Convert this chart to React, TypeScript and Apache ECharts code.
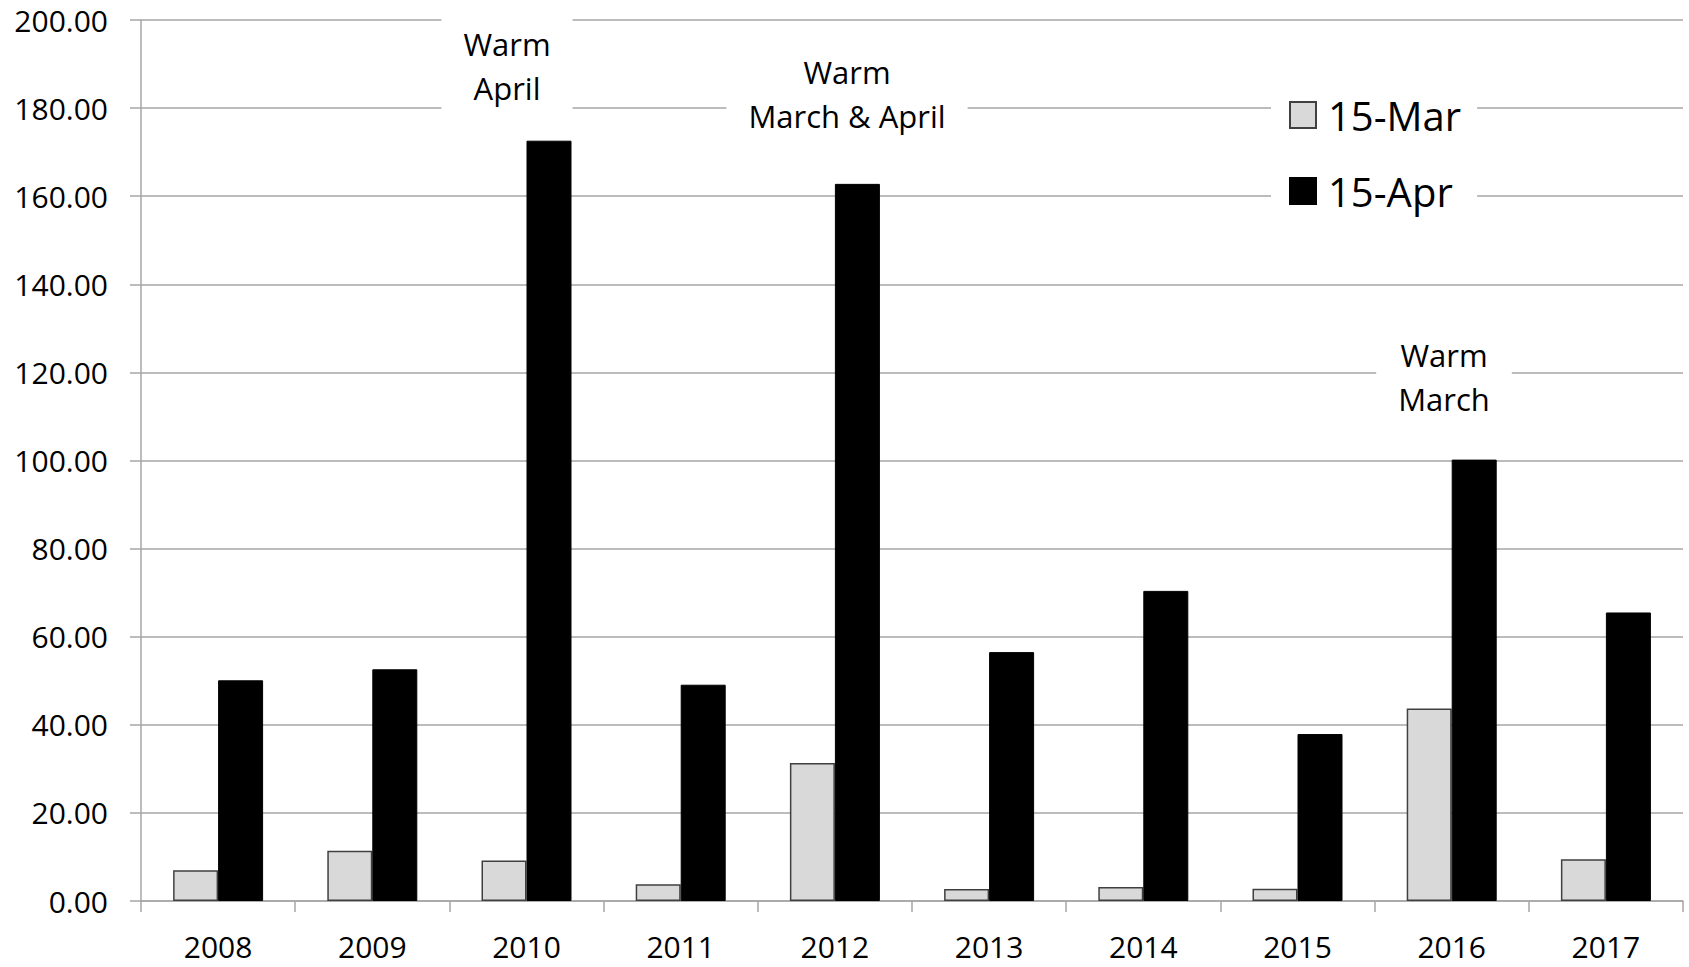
import React, { useEffect, useRef } from "react";
import * as echarts from "echarts";

// Sampling years on the category axis
const years = ["2008", "2009", "2010", "2011", "2012", "2013", "2014", "2015", "2016", "2017"];

// Values measured on 15 March and 15 April of each year
const march15 = [7.0, 11.4, 9.2, 3.8, 31.3, 2.7, 3.2, 2.8, 43.7, 9.5];
const april15 = [50.1, 52.6, 172.6, 49.1, 162.8, 56.5, 70.4, 37.9, 100.2, 65.5];

const seriesNames = ["15-Mar", "15-Apr"];

// Notes placed above notable years
const notes = [
  { text: "Warm\nApril", x: 507, y: 66 },
  { text: "Warm\nMarch & April", x: 847, y: 94 },
  { text: "Warm\nMarch", x: 1444, y: 377 },
];

const FONT = "'Open Sans', 'Noto Sans', sans-serif";
const GRID_GRAY = "#a6a6a6";

export default function App() {
  const ref = useRef<HTMLDivElement>(null);

  useEffect(() => {
    if (!ref.current) return;
    const chart = echarts.init(ref.current, null, { renderer: "svg" });
    chart.setOption({
      animation: false,
      backgroundColor: "#ffffff",
      textStyle: { fontFamily: FONT },
      grid: { left: 141, right: 6, top: 20, bottom: 66, containLabel: false },
      legend: {
        data: seriesNames,
        orient: "vertical",
        left: 1271,
        top: 75,
        itemWidth: 26,
        itemHeight: 26,
        itemGap: 36,
        icon: "rect",
        backgroundColor: "#ffffff",
        padding: [20, 16, 20, 18],
        textStyle: {
          fontSize: 40,
          lineHeight: 40,
          color: "#000",
          fontFamily: FONT,
          padding: [0, 0, 0, 7],
        },
      },
      xAxis: {
        type: "category",
        data: years,
        boundaryGap: true,
        axisLine: { show: true, lineStyle: { color: GRID_GRAY, width: 1.5 } },
        axisTick: { show: true, length: 11, alignWithLabel: false, lineStyle: { color: GRID_GRAY, width: 1.5 } },
        axisLabel: { fontSize: 30, color: "#000", fontFamily: FONT, margin: 30 },
        splitLine: { show: false },
      },
      yAxis: {
        type: "value",
        min: 0,
        max: 200,
        interval: 20,
        axisLine: { show: true, lineStyle: { color: GRID_GRAY, width: 1.5 } },
        axisTick: { show: true, length: 11, lineStyle: { color: GRID_GRAY, width: 1.5 } },
        axisLabel: {
          fontSize: 30,
          color: "#000",
          fontFamily: FONT,
          margin: 33,
          formatter: (v: number) => v.toFixed(2),
        },
        splitLine: { show: true, lineStyle: { color: GRID_GRAY, width: 1.5 } },
      },
      series: [
        {
          name: seriesNames[0],
          type: "bar",
          data: march15,
          barWidth: 45,
          barGap: "0%",
          itemStyle: { color: "#d9d9d9", borderColor: "#404040", borderWidth: 1.5 },
        },
        {
          name: seriesNames[1],
          type: "bar",
          data: april15,
          barWidth: 45,
          barGap: "0%",
          itemStyle: { color: "#000000", borderColor: "#000000", borderWidth: 1 },
        },
      ],
      graphic: notes.map((n) => ({
        type: "text",
        x: n.x,
        y: n.y,
        z: 10,
        style: {
          text: n.text,
          align: "center",
          verticalAlign: "middle",
          fontSize: 31,
          fontFamily: FONT,
          lineHeight: 44,
          fill: "#000",
          backgroundColor: "#ffffff",
          padding: [8, 22, 8, 22],
        },
      })),
    });
    return () => chart.dispose();
  }, []);

  return (
    <div
      ref={ref}
      style={{ position: "absolute", left: 0, top: 0, width: 1689, height: 967 }}
    />
  );
}
